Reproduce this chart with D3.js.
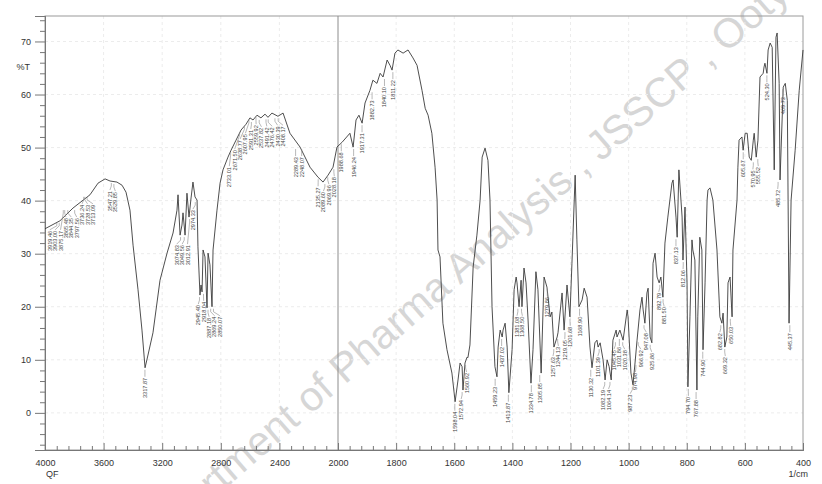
<!DOCTYPE html>
<html>
<head>
<meta charset="utf-8">
<script src="https://cdn.jsdelivr.net/npm/d3@7/dist/d3.min.js"></script>
<style>
    body { margin: 0; background: #ffffff; }
    svg { display: block; font-family: "Liberation Sans", Arial, sans-serif; }
</style>
</head>
<body>
<script>
// Spectrum: wavenumber (1/cm) and %T
var wavenumbers = [4000, 3898, 3809, 3693, 3638, 3590, 3556, 3509, 3474, 3447,
    3420, 3399, 3365, 3338, 3317, 3297, 3263, 3215, 3167, 3126,
    3099, 3092, 3078, 3065, 3058, 3044, 3031, 3017, 3003, 2990,
    2976, 2962, 2956, 2942, 2935, 2928, 2921, 2908, 2894, 2887,
    2874, 2860, 2853, 2826, 2805, 2785, 2751, 2730, 2696, 2662,
    2628, 2601, 2580, 2553, 2526, 2498, 2478, 2451, 2410, 2375,
    2328, 2259, 2191, 2136, 2102, 2068, 2034, 2007, 1986, 1959,
    1948, 1938, 1928, 1917, 1907, 1890, 1880, 1866, 1855, 1845,
    1831, 1821, 1814, 1804, 1794, 1776, 1759, 1742, 1728, 1711,
    1700, 1690, 1677, 1666, 1659, 1656, 1649, 1639, 1625, 1608,
    1597, 1587, 1580, 1573, 1570, 1563, 1556, 1553, 1546, 1535,
    1522, 1511, 1504, 1494, 1484, 1477, 1470, 1460, 1453, 1449,
    1442, 1435, 1432, 1425, 1418, 1412, 1401, 1394, 1387, 1384,
    1377, 1370, 1367, 1360, 1353, 1346, 1336, 1329, 1319, 1312,
    1301, 1291, 1281, 1270, 1264, 1257, 1246, 1243, 1229, 1222,
    1212, 1202, 1195, 1184, 1178, 1171, 1160, 1153, 1143, 1133,
    1126, 1116, 1109, 1105, 1098, 1088, 1081, 1074, 1067, 1060,
    1054, 1043, 1040, 1030, 1019, 1005, 1002, 992, 985, 978,
    971, 961, 954, 950, 944, 937, 933, 926, 920, 916,
    909, 902, 895, 889, 882, 875, 865, 851, 847, 837,
    833, 827, 816, 813, 806, 799, 796, 789, 782, 779,
    772, 765, 762, 755, 748, 744, 737, 730, 727, 720,
    710, 696, 686, 679, 675, 669, 662, 658, 651, 644,
    641, 627, 624, 620, 610, 606, 599, 592, 585, 578,
    571, 568, 561, 555, 548, 537, 534, 531, 524, 520,
    513, 506, 499, 493, 489, 482, 479, 468, 461, 454,
    448, 441, 427, 413, 400];

var transmittance = [34.7, 36.2, 38.6, 41.1, 43.3, 44.1, 43.7, 43.5, 42.9, 41.6,
    38.2, 31.6, 23.2, 15.6, 8.5, 10.9, 15.1, 25.0, 30.1, 33.9,
    38.2, 41.1, 33.5, 35.4, 37.7, 33.5, 41.4, 36.9, 40.5, 43.5,
    40.7, 40.1, 31.3, 22.2, 24.1, 22.8, 30.7, 29.4, 19.8, 30.1,
    27.9, 20.0, 30.7, 38.2, 43.3, 45.8, 48.2, 49.5, 51.4, 53.3,
    54.4, 55.6, 55.2, 56.1, 55.6, 56.3, 55.7, 56.5, 55.9, 56.5,
    52.7, 50.1, 46.3, 44.4, 43.5, 44.8, 46.3, 50.1, 51.0, 52.7,
    50.1, 55.2, 56.1, 54.6, 58.4, 60.8, 62.7, 62.1, 64.0, 63.3,
    66.5, 65.5, 64.6, 67.8, 68.4, 67.8, 68.4, 66.9, 65.5, 60.8,
    57.4, 56.1, 52.7, 46.3, 40.1, 30.7, 29.4, 16.9, 11.9, 7.5,
    2.1, 6.2, 9.4, 8.7, 4.3, 9.4, 10.5, 10.4, 12.8, 27.5,
    33.5, 40.1, 48.2, 49.9, 47.6, 40.1, 20.0, 8.7, 6.8, 12.4,
    15.6, 14.3, 15.6, 16.9, 12.4, 3.8, 11.9, 23.2, 25.6, 24.5,
    20.0, 25.0, 20.0, 27.3, 24.5, 17.5, 5.6, 11.9, 26.6, 23.2,
    7.5, 25.6, 23.7, 18.1, 19.0, 12.4, 14.3, 15.1, 22.6, 15.6,
    24.1, 18.1, 28.2, 44.8, 32.6, 20.0, 21.3, 23.5, 21.8, 12.4,
    8.5, 13.2, 13.7, 12.4, 13.2, 10.0, 6.2, 10.0, 8.7, 6.2,
    13.7, 15.6, 14.3, 15.6, 13.7, 19.4, 18.1, 7.5, 5.3, 9.4,
    13.7, 19.4, 21.8, 19.4, 16.9, 22.6, 23.5, 14.3, 13.2, 28.2,
    30.1, 25.6, 24.5, 25.6, 21.8, 32.0, 36.9, 43.3, 43.9, 36.9,
    33.1, 45.8, 36.9, 28.8, 38.8, 24.5, 4.9, 18.1, 32.6, 30.7,
    28.8, 4.3, 18.1, 33.1, 30.7, 11.9, 24.5, 40.1, 42.0, 42.4,
    40.1, 30.7, 18.1, 16.9, 18.8, 12.4, 14.3, 24.5, 25.6, 18.1,
    30.7, 40.1, 46.3, 51.4, 52.0, 49.5, 52.7, 52.7, 48.2, 47.6,
    51.4, 52.7, 48.2, 51.4, 63.3, 64.0, 65.2, 65.9, 64.0, 68.4,
    69.7, 68.9, 45.8, 70.8, 71.6, 62.1, 43.9, 61.4, 62.1, 58.9,
    16.9, 40.1, 49.5, 60.8, 68.4];

// Peak labels printed by the instrument
var peakLabels = ["3919.46", "3903.00", "3875.17", "3865.48", "3844.35", "3797.56", "3736.24", "3728.53", "3713.09", "3547.21", "3529.85",
    "3317.87", "3074.83", "3049.56", "3012.91", "2974.33", "2945.40", "2918.04", "2887.18", "2869.24", "2850.07",
    "2733.01", "2671.50", "2638.77", "2607.95", "2591.31", "2559.92", "2537.82", "2491.42", "2476.42", "2430.39", "2408.17",
    "2289.43", "2248.07", "2135.27", "2089.60", "2069.96", "2028.18", "1988.68", "1946.24", "1917.31", "1882.73",
    "1840.10", "1811.22", "1598.04", "1572.94", "1560.92", "1459.23", "1437.02", "1413.87", "1381.08", "1368.50",
    "1334.78", "1305.85", "1279.86", "1257.63", "1244.13", "1219.05", "1201.68", "1168.90", "1130.32", "1101.39",
    "1082.19", "1064.14", "1045.45", "1031.86", "1020.38", "987.23", "974.98", "966.92", "947.08", "925.86",
    "892.79", "881.50", "837.13", "812.06", "794.70", "767.88", "744.90", "682.82", "669.32", "650.03",
    "605.67", "570.95", "555.52", "524.30", "485.72", "469.73", "445.37"];

// Axis ticks (the scale doubles below 2000 1/cm)
var xTicks = [4000, 3600, 3200, 2800, 2400, 2000, 1800, 1600, 1400, 1200, 1000, 800, 600, 400];
var yTicks = [0, 10, 20, 30, 40, 50, 60, 70];
var watermark = "Department of Pharma Analysis , JSSCP , Ooty";

(function(){
    var width = 822, height = 484;

    var svg = d3.select('body').append('svg')
        .attr('width', width)
        .attr('height', height);

    // Two-segment x scale, like the printout
    var x = d3.scaleLinear().domain([4000, 2000, 400]).range([45, 338, 803]);
    var y = d3.scaleLinear().domain([-7, 74.8]).range([450, 16]);

    var points = wavenumbers.map(function(w, i){ return [w, transmittance[i]]; });

    // Watermark behind everything
    svg.append('text')
        .attr('transform', 'translate(140,563) rotate(-41)')
        .attr('font-size', 41)
        .attr('fill', '#d6d6d6')
        .text(watermark);

    // Faint grid
    var grid = svg.append('g').attr('stroke', '#ececec').attr('stroke-dasharray', '3,3');
    grid.selectAll('.vg').data(xTicks.filter(function(d){ return d != 2000 && d != 4000 && d != 400; }))
        .enter().append('line')
        .attr('x1', function(d){ return x(d); }).attr('x2', function(d){ return x(d); })
        .attr('y1', y.range()[1]).attr('y2', y.range()[0]);
    grid.selectAll('.hg').data(yTicks)
        .enter().append('line')
        .attr('x1', 45).attr('x2', 803)
        .attr('y1', function(d){ return y(d); }).attr('y2', function(d){ return y(d); });

    // Frame
    svg.append('rect')
        .attr('x', 45).attr('y', 16)
        .attr('width', 803 - 45).attr('height', 450 - 16)
        .attr('fill', 'none').attr('stroke', '#9a9a9a').attr('stroke-width', 1);

    // Scale change line at 2000
    svg.append('line')
        .attr('x1', x(2000)).attr('x2', x(2000))
        .attr('y1', 16).attr('y2', 450)
        .attr('stroke', '#8c8c8c');

    // Y axis
    svg.append('g')
        .attr('transform', 'translate(45,0)')
        .call(d3.axisLeft(y).tickValues(yTicks).tickSize(10).tickPadding(4));
    var yMinor = d3.range(-6, 75, 2).filter(function(d){ return d % 10 != 0; });
    svg.append('g')
        .attr('transform', 'translate(45,0)')
        .call(d3.axisLeft(y).tickValues(yMinor).tickSize(5).tickFormat(''));

    // X axis, ticks pointing into the plot
    svg.append('g')
        .attr('transform', 'translate(0,450)')
        .call(d3.axisBottom(x).tickValues(xTicks).tickSize(-7).tickPadding(10).tickFormat(d3.format('d')));
    var xMinor = d3.range(3920, 2000, -80).concat(d3.range(1960, 400, -40))
        .filter(function(d){ return xTicks.indexOf(d) < 0; });
    svg.append('g')
        .attr('transform', 'translate(0,450)')
        .call(d3.axisBottom(x).tickValues(xMinor).tickSize(-4).tickFormat(''));

    svg.selectAll('.domain').attr('stroke', '#777');
    svg.selectAll('.tick line').attr('stroke', '#777');
    svg.selectAll('.tick text').attr('font-size', 9).attr('fill', '#333')
        .attr('font-family', '"Liberation Sans", Arial, sans-serif');

    // Axis captions
    svg.append('text').attr('x', 30).attr('y', 70).attr('text-anchor', 'end')
        .attr('font-size', 9).attr('fill', '#333').text('%T');
    svg.append('text').attr('x', 46).attr('y', 477)
        .attr('font-size', 9).attr('fill', '#333').text('QF');
    svg.append('text').attr('x', 808).attr('y', 477).attr('text-anchor', 'end')
        .attr('font-size', 9).attr('fill', '#333').text('1/cm');

    // Spectrum
    var line = d3.line()
        .x(function(d){ return x(d[0]); })
        .y(function(d){ return y(d[1]); });
    svg.append('path')
        .datum(points)
        .attr('d', line)
        .attr('fill', 'none')
        .attr('stroke', '#3a3a3a')
        .attr('stroke-width', 0.9);

    // Lowest point of the trace near a pixel position
    function curveBottom(px, reach) {
        var yy = -Infinity;
        points.forEach(function(p){
            if (Math.abs(x(p[0]) - px) <= reach) yy = Math.max(yy, y(p[1]));
        });
        if (yy == -Infinity) {
            var w = x.invert(px);
            var i = d3.bisector(function(p){ return -p[0]; }).left(points, -w);
            yy = y(points[Math.min(i, points.length - 1)][1]);
        }
        return yy;
    }

    // Peak labels: spread apart so they do not collide
    var labels = peakLabels.map(function(t){
        var w = parseFloat(t);
        return { text: t, px: x(w), lx: x(w) };
    });
    var gap = 5.4;
    for (var k = 0; k < 40; k++) {
        for (var i = 1; i < labels.length; i++) {
            var d = labels[i].lx - labels[i - 1].lx;
            if (d < gap) {
                var push = (gap - d) / 2;
                labels[i - 1].lx -= push;
                labels[i].lx += push;
            }
        }
    }
    labels.forEach(function(l){
        l.dip = curveBottom(l.px, 2.5);
        l.top = Math.max(l.dip, curveBottom(l.lx, 2.5)) + 10;
    });

    var lg = svg.append('g');
    lg.selectAll('.lead').data(labels).enter().append('polyline')
        .attr('points', function(l){
            return [l.px, l.dip + 2, l.px, l.dip + 5, l.lx, l.top - 1].join(',');
        })
        .attr('fill', 'none')
        .attr('stroke', '#888')
        .attr('stroke-width', 0.6);
    lg.selectAll('.lbl').data(labels).enter().append('text')
        .attr('transform', function(l){ return 'translate(' + (l.lx + 2) + ',' + l.top + ') rotate(-90)'; })
        .attr('text-anchor', 'end')
        .attr('font-size', 5.6)
        .attr('fill', '#444')
        .text(function(l){ return l.text; });
})();
</script>
</body>
</html>
